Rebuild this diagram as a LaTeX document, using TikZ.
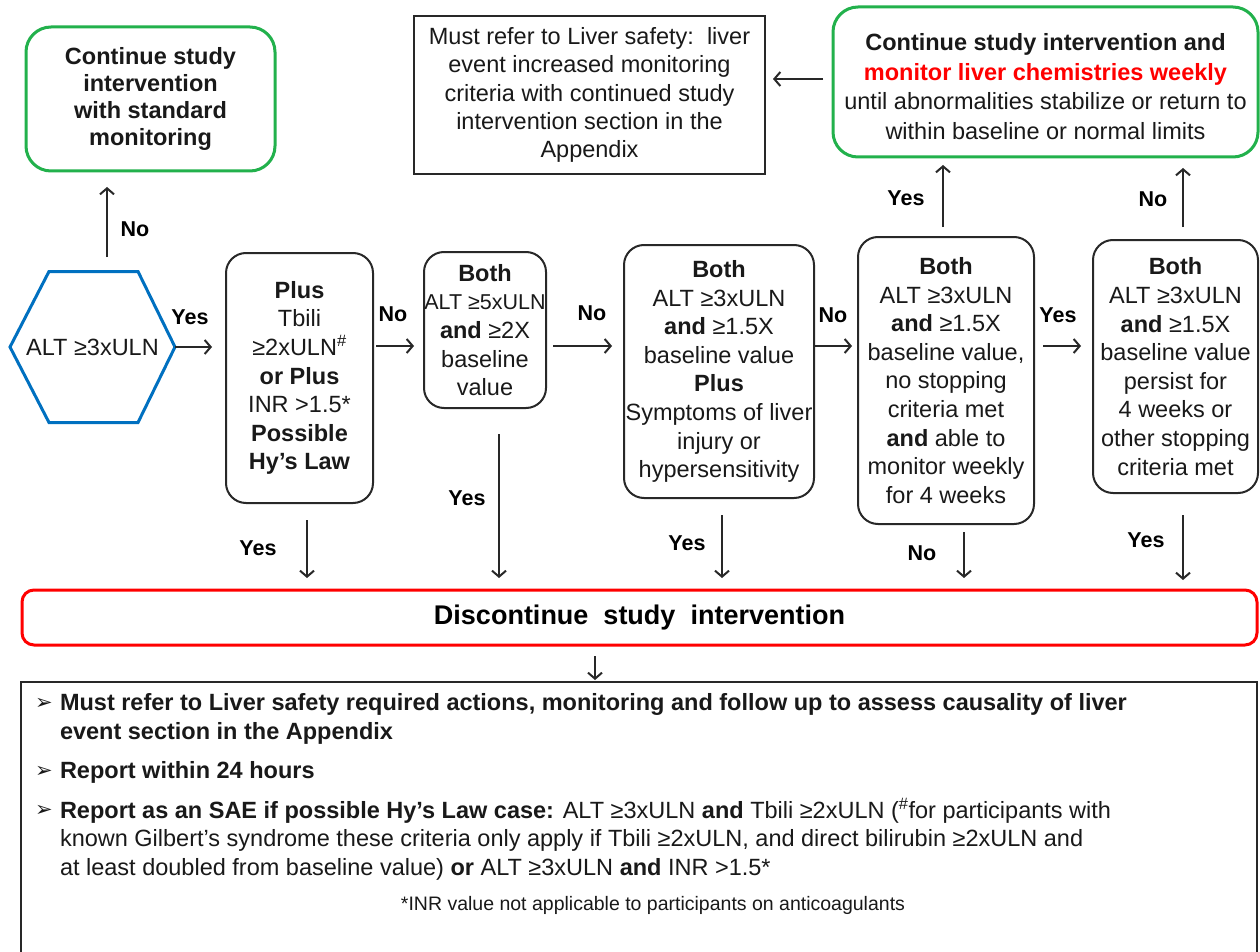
\documentclass[tikz,border=0pt]{standalone}
\usepackage{fontspec}
\setmainfont{Liberation Sans}
\newfontfamily\dejavu{DejaVu Sans}
\usetikzlibrary{arrows.meta,calc}
\definecolor{grn}{RGB}{34,177,76}
\definecolor{hexblue}{RGB}{0,112,192}
\definecolor{edge}{RGB}{40,40,40}
\definecolor{txt}{RGB}{25,25,25}
\begin{document}
\begin{tikzpicture}[x=1pt,y=-1pt,
  every node/.style={inner sep=0pt, outer sep=0pt, text=txt},
  arr/.style={line width=2pt, draw=edge, -{Straight Barb[length=6pt,width=14pt,line width=2pt]}},
  lbl/.style={font=\bfseries\fontsize{21.5}{24}\selectfont, text=black},
  box/.style={draw=edge, line width=2pt, rounded corners=20pt, align=center, font=\fontsize{23.5}{28.6}\selectfont},
  gbox/.style={draw=grn, line width=3pt, rounded corners=25pt, align=center, font=\fontsize{23.5}{27.3}\selectfont},
  btxt/.style={anchor=west, font=\fontsize{23.5}{29}\selectfont},
  bul/.style={anchor=center, font=\dejavu\fontsize{21}{24}\selectfont},
]
\useasboundingbox (0,0) rectangle (1260,952);
\fill[white] (0,0) rectangle (1260,952);

% top boxes
\node[gbox, minimum width=249, minimum height=144] (green1) at (150.5,99)
  {\bfseries Continue study\\\bfseries intervention\\\bfseries with standard\\\bfseries monitoring};
\node[draw=edge, line width=2pt, align=center, font=\fontsize{23.5}{28.25}\selectfont,
  minimum width=351, minimum height=158] (must) at (589.5,95)
  {Must refer to Liver safety:\ \ liver\\event increased monitoring\\criteria with continued study\\intervention section in the\\Appendix};
\node[gbox, minimum width=425, minimum height=150, font=\fontsize{23.5}{29.7}\selectfont] (green2) at (1045.5,82)
  {\rule{0pt}{26pt}\textbf{Continue study intervention and}\\\textcolor{red}{\textbf{monitor liver chemistries weekly}}\\until abnormalities stabilize or return to\\within baseline or normal limits};

% hexagon
\node[minimum width=165, minimum height=151, font=\fontsize{23.5}{28}\selectfont] (hex) at (92.5,347) {ALT ≥3xULN};
\draw[hexblue, line width=3pt, line join=miter]
  (hex.west) -- ++(39,-75.5) -- ++(89,0) -- (hex.east) -- ++(-37,75.5) -- ++(-89,0) -- cycle;

% decision boxes
\node[box, minimum width=147, minimum height=250] (A) at (299.5,378)
  {\textbf{Plus}\\Tbili\\≥2xULN\textsuperscript{\#}\\\textbf{or Plus}\\INR >1.5*\\\textbf{Possible}\\\textbf{Hy’s Law}};
\node[box, minimum width=122, minimum height=156] (B) at (485,330)
  {\textbf{Both}\\\makebox[116pt]{\fontsize{21.5}{28.6}\selectfont ALT ≥5xULN}\\\textbf{and} ≥2X\\baseline\\value};
\node[box, minimum width=190, minimum height=253] (C) at (719,371.5)
  {\textbf{Both}\\ALT ≥3xULN\\\textbf{and} ≥1.5X\\baseline value\\\textbf{Plus}\\Symptoms of liver\\injury or\\hypersensitivity};
\node[box, minimum width=176, minimum height=287] (D) at (946,380.5)
  {\textbf{Both}\\ALT ≥3xULN\\\textbf{and} ≥1.5X\\baseline value,\\no stopping\\criteria met\\\textbf{and} able to\\monitor weekly\\for 4 weeks};
\node[box, minimum width=165, minimum height=253] (E) at (1175.5,366.5)
  {\textbf{Both}\\ALT ≥3xULN\\\textbf{and} ≥1.5X\\baseline value\\persist for\\4 weeks or\\other stopping\\criteria met};

% discontinue
\node[draw=red, line width=3pt, rounded corners=12pt, minimum width=1235, minimum height=55,
  font=\bfseries\fontsize{27}{30}\selectfont, text=black] (red) at (639.5,617.5) {Discontinue\ \ study\ \ intervention};

% bottom box (runs past the lower edge)
\coordinate (bl) at (21,960);
\coordinate (br) at (1257,960);
\draw[edge, line width=2pt] (bl) -- (21,682) -- (1257,682) -- (br);
\coordinate (bottomtop) at (595,682);

% horizontal connectors
\coordinate (row) at (0,346);
\draw[arr, shorten >=14pt] (hex.east) -- (hex.east -| A.west);
\draw[arr, shorten <=3pt, shorten >=10pt] (A.east |- row) -- (B.west |- row);
\draw[arr, shorten <=7pt, shorten >=12pt] (B.east |- row) -- (C.west |- row);
\draw[arr, shorten >=6pt] (C.east |- row) -- (D.west |- row);
\draw[arr, shorten <=9pt, shorten >=12pt] (D.east |- row) -- (E.west |- row);
\coordinate (mustarr) at (773,79);
\draw[arr, shorten <=10pt] (green2.west |- mustarr) -- (mustarr);

% vertical connectors up
\coordinate (hexup) at (107,257);
\draw[arr, shorten >=16pt] (hexup) -- (hexup |- green1.south);
\draw[arr] ($(D.north)+(-3,-10)$) -- ($(D.north)+(-3,-72)$);
\draw[arr] ($(E.north)+(7.5,-13)$) -- ($(E.north)+(7.5,-72)$);

% vertical connectors down
\draw[arr] ($(A.south)+(7.5,17)$) -- ($(A.south)+(7.5,75)$);
\draw[arr] ($(B.south)+(14,26)$) -- ($(B.south)+(14,170)$);
\draw[arr] ($(C.south)+(3,17)$) -- ($(C.south)+(3,80)$);
\draw[arr] ($(D.south)+(18,8)$) -- ($(D.south)+(18,54)$);
\draw[arr] ($(E.south)+(7.5,22)$) -- ($(E.south)+(7.5,87)$);
\draw[arr, line width=1.5pt] ($(red.south)+(-44.5,11)$) -- ($(bottomtop)+(0,-2)$);

% labels
\node[lbl] (l1) at (135,229) {No};
\node[lbl] (l2) at (190,317) {Yes};
\node[lbl] (l3) at (393,314) {No};
\node[lbl] (l4) at (592,313) {No};
\node[lbl] (l5) at (833,315) {No};
\node[lbl] (l6) at (1058,315) {Yes};
\node[lbl] (l7) at (906,198) {Yes};
\node[lbl] (l8) at (1153,199) {No};
\node[lbl] (l9) at (258,548) {Yes};
\node[lbl] (l10) at (467,498) {Yes};
\node[lbl] (l11) at (687,543) {Yes};
\node[lbl] (l12) at (922,553) {No};
\node[lbl] (l13) at (1146,540) {Yes};

% bottom text
\node[bul] (b1) at (44,704) {➢};
\node[btxt] (t1) at (60,704) {\bfseries Must refer to Liver safety required actions, monitoring and follow up to assess causality of liver};
\node[btxt] (t2) at (60,733) {\bfseries event section in the Appendix};
\node[bul] (b2) at (44,772) {➢};
\node[btxt] (t3) at (60,772) {\bfseries Report within 24 hours};
\node[bul] (b3) at (44,811) {➢};
\node[btxt] (t4) at (60,811) {\textbf{Report as an SAE if possible Hy’s Law case:} ALT ≥3xULN \textbf{and} Tbili ≥2xULN (\textsuperscript{\#}for participants with};
\node[btxt] (t5) at (60,840) {known Gilbert’s syndrome these criteria only apply if Tbili ≥2xULN, and direct bilirubin ≥2xULN and};
\node[btxt] (t6) at (60,869) {at least doubled from baseline value) \textbf{or} ALT ≥3xULN \textbf{and} INR >1.5*};
\node[font=\fontsize{19.5}{22}\selectfont] (fn) at (653,905) {*INR value not applicable to participants on anticoagulants};
\end{tikzpicture}
\end{document}
